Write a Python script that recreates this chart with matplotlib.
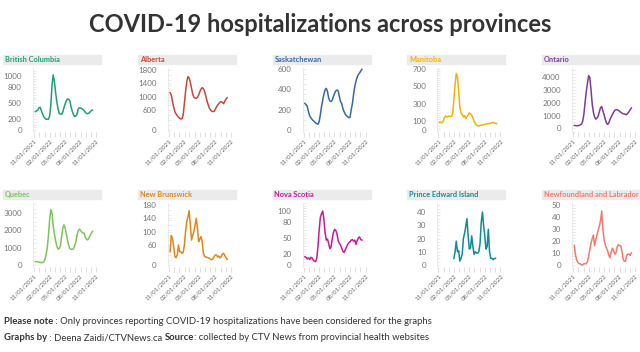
import numpy as np
import pandas as pd
import matplotlib
matplotlib.use('Agg')
import matplotlib.pyplot as plt
import matplotlib.dates as mdates
from matplotlib.patches import Rectangle
from matplotlib.ticker import AutoMinorLocator

plt.rcParams['font.family'] = ['Lato', 'DejaVu Sans']

# weekly reporting dates (x categories)
dates = pd.date_range('2021-11-08', periods=49, freq='7D')

nan = np.nan
provinces = ['British Columbia', 'Alberta', 'Saskatchewan', 'Manitoba', 'Ontario',
             'Quebec', 'New Brunswick', 'Nova Scotia', 'Prince Edward Island',
             'Newfoundland and Labrador']

bc = [340, 355, 370, 410, 420, 360, 300, 250, 220, 200, 200, 200, 260, 460, 830, 1020, 900,
      700, 530, 400, 310, 295, 290, 330, 410, 480, 540, 575, 570, 540, 430, 350, 290, 250,
      260, 290, 390, 410, 405, 400, 380, 360, 330, 305, 305, 310, 335, 355, 370]
ab = [1120, 1050, 850, 680, 550, 480, 430, 390, 350, 330, 340, 450, 800, 1150, 1450, 1600,
      1560, 1430, 1250, 1080, 980, 960, 950, 980, 1050, 1150, 1230, 1270, 1240, 1160, 1020,
      880, 760, 660, 600, 570, 550, 560, 620, 690, 750, 790, 840, 850, 830, 790, 860, 930, 970]
sk = [262, 250, 232, 180, 140, 120, 105, 92, 82, 70, 62, 56, 80, 150, 230, 295, 350, 395,
      410, 380, 315, 285, 280, 292, 330, 360, 385, 393, 385, 330, 279, 260, 210, 180, 155,
      140, 131, 120, 125, 200, 260, 350, 430, 480, 520, 545, 560, 580, 597]
mb = [88, 86, 84, 100, 140, 160, 150, 155, 160, 152, 158, 185, 350, 520, 650, 610, 450, 260,
      200, 175, 150, 165, 130, 150, 175, 195, 185, 170, 140, 100, 75, 58, 48, 46, 52, 55, 58,
      60, 64, 68, 70, 73, 76, 78, 82, 88, 80, 76, 73]
on = [230, 215, 200, 215, 230, 280, 330, 560, 1100, 2000, 2850, 3500, 4100, 3950, 3000,
      1900, 1250, 880, 720, 800, 940, 1300, 1600, 1700, 1350, 1070, 700, 420, 305, 430, 700,
      900, 1070, 1250, 1400, 1450, 1450, 1400, 1330, 1250, 1180, 1150, 1120, 1090, 1070,
      1180, 1300, 1450, 1580]
qc = [195, 195, 195, 170, 150, 140, 135, 170, 300, 600, 1000, 1700, 2600, 3190, 3000, 2250,
      1800, 1400, 1100, 920, 950, 1100, 1600, 2100, 2320, 2150, 1800, 1450, 1150, 950, 910,
      910, 930, 1100, 1300, 1700, 1950, 2070, 2000, 1900, 1840, 1840, 1600, 1480, 1450, 1550,
      1700, 1820, 1935]
nb = [40, 88, 80, 55, 25, 22, 30, 60, 40, 40, 35, 38, 60, 100, 130, 145, 163, 120, 75, 88,
      100, 120, 140, 110, 70, 78, 85, 70, 35, 26, 24, 23, 22, 20, 17, 16, 18, 25, 30, 30, 24,
      27, 21, 25, 33, 35, 28, 22, 17]
ns = [15, 14, 11, 13, 10, 14, 13, 9, 7, 6, 12, 34, 64, 88, 95, 100, 85, 60, 46, 48, 40, 30,
      33, 48, 60, 66, 64, 58, 45, 40, 37, 31, 25, 23, 28, 33, 38, 41, 43, 46, 47, 44, 46, 38,
      45, 50, 52, 47, 46]
pei = [nan, nan, nan, nan, nan, nan, nan, nan, nan, nan, nan, nan, 5, 10, 18, 10, 11, 3, 5,
       8, 20, 24, 29, 35, 22, 12, 13, 22, 14, 8, 10, 9, 9, 10, 16, 32, 40, 30, 22, 12, 14, 27,
       10, 5, 5, 4, 5, 5, nan]
nl = [16, 8, 4, 2, 1, 1, 0, 0, 1, 1, 1, 3, 7, 13, 18, 22, 25, 16, 21, 25, 29, 32, 37, 45,
      30, 21, 17, 14, 12, 8, 6, 11, 14, 12, 9, 10, 15, 17, 16, 16, 12, 5, 3, 3, 8, 9, 9, 8, 10]

series = [bc, ab, sk, mb, on, qc, nb, ns, pei, nl]

yticks = [[0, 200, 500, 800, 1000], [0, 600, 1000, 1400, 1800], [0, 200, 400, 600],
          [0, 100, 300, 500, 700], [0, 1000, 2000, 3000, 4000], [0, 1000, 2000, 3000],
          [0, 60, 100, 140, 180], [0, 20, 50, 80, 100], [0, 10, 20, 30, 40],
          [0, 10, 20, 30, 40, 50]]

# styling / layout
colors = ['#1f9e74', '#c8463b', '#3a67a8', '#f0b400', '#7d3c98',
          '#7cc45c', '#e0861a', '#c51b9a', '#138a93', '#f27a6e']
ylims = [(-37, 1148), (-60, 1860), (-20, 610), (-23, 711), (-280, 4690),
         (-115, 3577), (-6, 186), (-4, 115), (-1.5, 46.8), (-1.7, 51.7)]

W, H = 640, 352
fig = plt.figure(figsize=(W / 100, H / 100), dpi=100)


def fx(px):
    return px / W


def fy(py):
    return 1 - py / H


fig.text(0.5, fy(24), 'COVID-19 hospitalizations across provinces', ha='center',
         va='center', fontsize=17, fontweight='bold', color='#333333')

for i, (name, vals) in enumerate(zip(provinces, series)):
    row, col = divmod(i, 5)
    hx = 3 + 134.75 * col
    top = 68 + 135 * row
    bot = 132 + 135 * row
    htop = 55 + 135 * row

    fig.patches.append(Rectangle((fx(hx), fy(htop + 9)), fx(98), 9 / H,
                                 transform=fig.transFigure, color='#ebebeb', zorder=0))
    fig.text(fx(hx + 2), fy(htop + 4.7), name, fontsize=5.3, fontweight='bold',
             color=colors[i], va='center', ha='left')

    ax = fig.add_axes([fx(hx + 30), fy(bot), fx(64), (bot - top) / H])
    ax.plot(dates, vals, color=colors[i], lw=1.1, solid_joinstyle='round')
    ax.set_xlim(pd.Timestamp('2021-10-25'), pd.Timestamp('2022-11-06'))
    ax.set_ylim(*ylims[i])
    ax.set_yticks(yticks[i])
    ax.yaxis.set_minor_locator(AutoMinorLocator(4))
    ax.xaxis.set_major_locator(mdates.MonthLocator(bymonth=[2, 5, 8, 11]))
    ax.xaxis.set_minor_locator(mdates.MonthLocator())
    ax.xaxis.set_major_formatter(mdates.DateFormatter('%m/%d/%Y'))

    for s in ['top', 'right', 'bottom']:
        ax.spines[s].set_visible(False)
    ax.spines['left'].set_color('#e6e6e6')
    ax.spines['left'].set_linewidth(0.6)
    ax.tick_params(axis='y', which='both', direction='in', length=2.5, width=0.5,
                   color='#e0e0e0', labelsize=5.8, labelcolor='#777777', pad=8)
    ax.tick_params(axis='x', which='both', direction='out', length=3.5, width=0.5,
                   color='#d0d0d0', labelsize=4.5, labelcolor='#666666', pad=1)
    plt.setp(ax.get_xticklabels(), rotation=45, ha='right', rotation_mode='anchor')
    ax.set_facecolor('none')

# footer with mixed bold / regular runs
renderer = fig.canvas.get_renderer()


def write_runs(x0, y, runs):
    x = x0
    for txt, weight in runs:
        t = fig.text(x, y, txt, fontsize=6.8, fontweight=weight, color='#333333',
                     va='center', ha='left')
        bb = t.get_window_extent(renderer)
        x += bb.width / W


write_runs(fx(4), fy(321), [('Please note', 'bold'),
                            (' : Only provinces reporting COVID-19 hospitalizations have been '
                             'considered for the graphs', 'normal')])
write_runs(fx(4), fy(338), [('Graphs by', 'bold'), (' : Deena Zaidi/CTVNews.ca ', 'normal'),
                            ('Source', 'bold'),
                            (': collected by CTV News from provincial health websites', 'normal')])

fig.savefig('out.png', dpi=100)
